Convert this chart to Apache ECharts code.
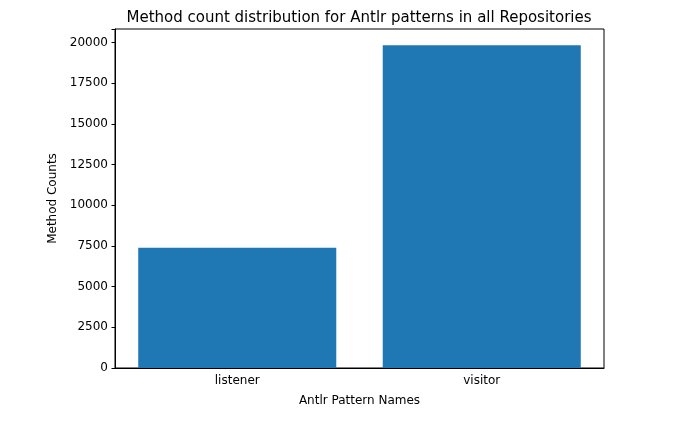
<!DOCTYPE html>
<html>
<head>
<meta charset="utf-8">
<script src="https://cdn.jsdelivr.net/npm/echarts@6/dist/echarts.min.js"></script>
<style>html,body{margin:0;padding:0;background:#fff}#c{width:674px;height:427px}</style>
</head>
<body>
<div id="c"></div>
<script>
const categories = ['listener', 'visitor'];
const methodCounts = [7390, 19840];
const yTicks = [0, 2500, 5000, 7500, 10000, 12500, 15000, 17500, 20000];

const chart = echarts.init(document.getElementById('c'), null, {renderer: 'canvas'});
const font = 'DejaVu Sans';
const yMax = Math.max(...methodCounts) * 1.05;
chart.setOption({
  animation: false,
  title: {
    text: 'Method count distribution for Antlr patterns in all Repositories',
    left: 354, textAlign: 'center', top: 6,
    textStyle: {fontFamily: font, fontSize: 15, fontWeight: 'normal', color: '#000'}
  },
  grid: {left: 115, right: 70, top: 29, bottom: 59, show: true, borderColor: '#000', borderWidth: 1},
  xAxis: {
    type: 'category', data: categories,
    name: 'Antlr Pattern Names', nameLocation: 'middle', nameGap: 27,
    nameTextStyle: {fontFamily: font, fontSize: 12, color: '#000'},
    axisLine: {lineStyle: {color: '#000'}},
    axisTick: {alignWithLabel: true, length: 3.5, lineStyle: {color: '#000'}},
    axisLabel: {fontFamily: font, fontSize: 12, color: '#000', margin: 7}
  },
  yAxis: {
    type: 'value', min: 0, max: yMax, interval: 2500,
    name: 'Method Counts', nameLocation: 'middle', nameGap: 56, nameRotate: 90,
    nameTextStyle: {fontFamily: font, fontSize: 12, color: '#000'},
    splitLine: {show: false},
    axisLine: {show: true, lineStyle: {color: '#000'}},
    axisTick: {show: true, length: 3.5, lineStyle: {color: '#000'}},
    axisLabel: {
      fontFamily: font, fontSize: 12, color: '#000', margin: 7,
      formatter: v => yTicks.includes(v) ? String(v) : ''
    }
  },
  series: [{
    type: 'bar', data: methodCounts, barWidth: '81%',
    itemStyle: {color: '#1f77b4'}
  }]
});
</script>
</body>
</html>
